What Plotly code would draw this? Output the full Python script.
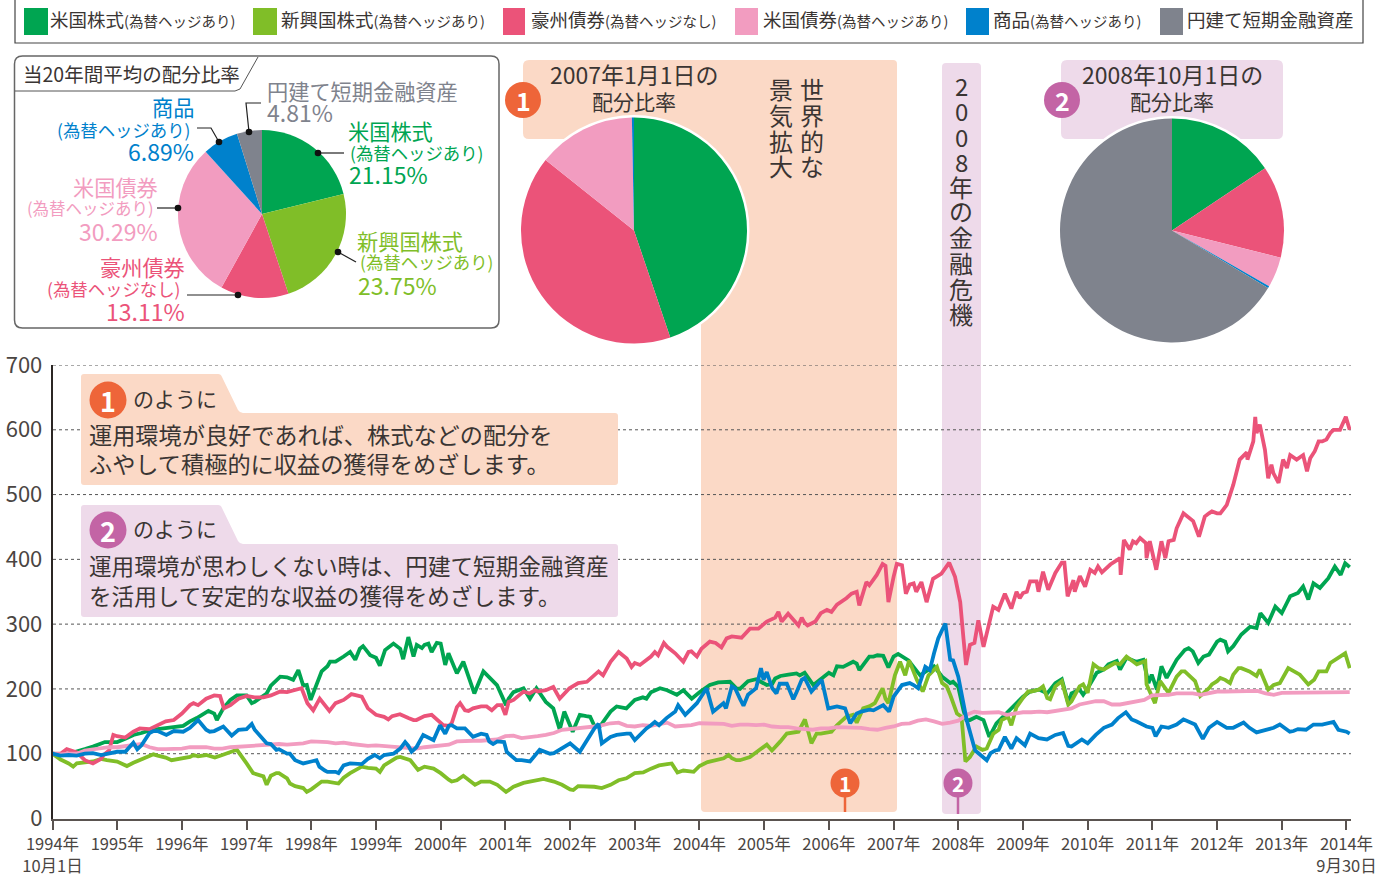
import plotly.graph_objects as go

# ---------- data ----------
year_labels = ["1994年<br>10月1日"] + [f"{y}年" for y in range(1995, 2014)] + ["2014年<br>9月30日"]
year_ticks = list(range(21))
y_ticks = [0, 100, 200, 300, 400, 500, 600, 700]
steps = [k / 8 for k in range(161)] + [20.05]

us_equity = [100,99,100,103,107,111,115,118,
 118,123,128,132,136,138,140,141,
 142,150,160,165,162,168,183,190,
 190,180,190,205,220,218,225,205,
 190,215,235,242,250,258,262,255,
 248,265,270,262,275,265,268,270,
 270,255,232,235,198,221,218,204,
 180,195,197,195,192,180,165,162,
 147,158,158,143,150,165,175,173,
 183,187,195,200,198,190,197,187,
 195,205,212,210,212,200,212,215,
 222,208,220,222,224,225,215,215,
 225,235,240,242,230,250,252,235,
 250,250,240,219,230,235,219,209,
 211,152,152,145,132,155,163,176,
 188,193,199,193,209,214,193,199,
 201,222,230,240,242,248,242,245,
 204,232,224,245,260,258,245,253,
 273,273,266,284,296,299,317,325,
 322,340,348,356,363,363,384,381,
 392,389]
us_equity_detail = [(.81,118),(1.25,129),(1.71,139),(2.02,143),(2.23,155),(2.41,166),(2.54,152),(2.64,170),(2.85,190),(3.08,178),
 (3.31,193),(3.52,219),(3.72,214),(3.8,229),(3.93,206),(3.99,183),(4.16,227),(4.29,242),(4.6,257),(4.68,245),(4.8,266),(4.91,252),
 (5.06,236),(5.14,260),(5.27,270),(5.42,246),(5.5,280),(5.58,250),(5.63,268),(5.71,263),(5.81,270),(5.86,257),(5.94,271),(6.07,237),
 (6.12,255),(6.25,224),(6.35,242),(6.52,193),(6.66,227),(6.87,206),(7.01,175),(7.05,185),(7.28,201),(7.38,185),(7.48,201),(7.74,170),
 (7.84,137),(7.91,165),(8.04,134),(8.15,160),(8.31,157),(8.46,142),(8.72,173),(8.87,170),(9.18,185),(9.39,201),(9.65,191),(9.75,198),
 (9.88,185),(10.16,206),(10.29,210),(10.47,211),(10.57,201),(10.83,214),(11.04,206),(11.17,216),(11.55,221),(11.76,206),(12.07,221),
 (12.22,234),(12.43,239),(12.47,229),(12.69,250),(12.84,251),(12.92,233),(13.07,254),(13.23,244),(13.41,221),(13.51,228),(13.92,211),
 (14.0,203),(14.08,167),(14.18,152),(14.28,157),(14.39,152),(14.48,126),(14.59,147),(14.72,160),(14.9,178),(15.11,196),(15.6,215),
 (15.7,178),(15.93,191),(16.14,225),(16.32,238),(16.45,243),(16.5,230),(16.6,248),(16.86,245),(16.94,209),(16.99,222),(17.07,199),
 (17.14,235),(17.22,217),(17.56,263),(17.71,240),(17.79,250),(18.05,276),(18.17,258),(18.51,296),(18.61,294),(18.67,317),(18.79,302),
 (18.9,327),(19.0,317),(19.08,333),(19.13,343),(19.33,358),(19.41,338),(19.49,363),(19.59,356),(19.72,371),(19.82,389),(19.91,376),
 (19.98,394),(20.05,388)]

em_equity = [100,91,85,85,87,88,92,90,
 88,81,86,91,96,97,94,91,
 92,95,96,98,96,98,103,105,
 85,67,62,66,70,62,50,47,
 45,56,57,55,63,70,80,78,
 77,82,90,95,92,80,80,76,
 70,60,59,64,52,57,54,52,
 42,49,56,57,60,62,57,52,
 45,50,50,49,46,52,59,63,
 70,71,77,82,84,72,74,73,
 81,87,89,93,93,90,95,101,
 111,108,119,134,134,152,119,131,
 134,144,157,160,162,173,180,185,
 214,245,222,204,199,230,209,191,
 158,88,111,106,106,137,152,170,
 186,196,199,186,204,209,181,204,
 194,235,230,237,235,250,240,240,
 194,209,194,219,227,214,194,201,
 212,214,222,232,227,222,204,206,
 227,232,224,209,214,227,240,248,
 253,235]
em_equity_detail = [(.32,80),(.84,90),(1.15,81),(1.56,99),(1.84,90),(2.18,98),(2.51,94),(2.85,106),(3.1,70),(3.26,65),(3.31,52),(3.46,70),
 (3.67,54),(3.93,41),(4.16,57),(4.42,54),(4.6,70),(4.78,80),(5.06,72),(5.32,94),(5.53,90),(5.65,75),(5.89,77),(6.17,57),(6.35,66),
 (6.53,52),(6.76,57),(7.01,41),(7.28,55),(7.59,61),(8.05,44),(8.49,47),(8.87,62),(9.13,71),(9.57,85),(9.66,71),(9.91,72),(10.27,90),
 (10.45,98),(10.57,90),(10.78,95),(10.93,106),(11.04,114),(11.12,105),(11.35,131),(11.53,134),(11.63,153),(11.73,116),(11.81,131),
 (12.04,134),(12.27,157),(12.43,148),(12.53,170),(12.71,178),(12.83,201),(12.92,178),(13.02,221),(13.1,242),(13.18,221),(13.24,244),
 (13.36,214),(13.45,196),(13.54,221),(13.67,234),(13.82,204),(13.98,162),(14.05,157),(14.11,88),(14.18,95),(14.28,111),(14.44,108),
 (14.54,131),(14.67,152),(14.77,157),(14.82,144),(14.9,172),(15.08,196),(15.31,204),(15.42,184),(15.6,212),(15.7,176),(15.93,207),
 (16.09,238),(16.17,232),(16.42,240),(16.5,238),(16.6,250),(16.76,238),(16.89,243),(16.91,207),(17.04,178),(17.12,212),(17.25,194),
 (17.45,227),(17.66,212),(17.74,189),(17.92,207),(18.05,217),(18.2,209),(18.33,232),(18.61,220),(18.66,230),(18.79,199),(18.97,209),
 (19.1,232),(19.28,222),(19.41,207),(19.57,227),(19.69,227),(19.98,255),(20.05,232)]

au_bond = [100,100,105,102,90,85,92,105,
 127,125,127,139,138,145,150,152,
 162,175,175,185,190,175,175,185,
 190,187,187,190,197,195,198,203,
 185,185,167,178,183,192,183,170,
 160,157,158,161,155,152,158,158,
 148,143,172,167,170,173,170,175,
 162,183,191,193,196,198,201,187,
 204,209,211,222,224,242,258,247,
 240,240,250,260,265,255,245,258,
 258,268,271,278,281,281,291,296,
 302,307,314,314,304,302,304,317,
 322,330,338,345,352,360,375,390,
 385,375,361,358,338,373,381,397,
 348,271,271,266,312,330,343,343,
 348,366,361,356,379,394,352,369,
 381,384,392,394,399,422,425,428,
 410,425,422,448,469,461,435,471,
 471,482,518,559,574,605,543,528,
 548,559,554,536,559,582,595,600,
 605,598]
au_bond_detail = [(.22,107),(.55,88),(.79,98),(.94,129),(1.25,134),(1.35,139),(1.66,146),(1.94,157),(2.18,178),(2.59,189),(2.65,170),(3.0,189),
 (3.26,187),(3.52,196),(3.85,201),(3.94,178),(4.03,167),(4.13,185),(4.28,166),(4.62,192),(4.78,188),(4.93,165),(5.19,153),(5.37,161),
 (5.58,152),(5.86,160),(6.04,144),(6.17,147),(6.3,178),(6.43,166),(6.71,173),(6.79,167),(6.94,175),(7.0,160),(7.05,180),(7.28,196),
 (7.46,198),(7.74,203),(7.84,185),(7.99,201),(8.26,211),(8.44,227),(8.51,221),(8.75,257),(8.95,234),(9.08,237),(9.31,257),(9.36,252),
 (9.45,271),(9.75,242),(9.83,257),(9.96,250),(10.03,262),(10.16,273),(10.34,264),(10.42,278),(10.65,279),(10.78,293),(10.91,293),(11.04,304),
 (11.17,310),(11.22,319),(11.27,304),(11.37,316),(11.53,298),(11.58,310),(11.67,298),(11.79,304),(11.97,322),(12.04,319),(12.27,340),
 (12.35,347),(12.43,350),(12.47,329),(12.58,365),(12.74,376),(12.83,393),(12.92,334),(13.0,373),(13.05,393),(13.13,391),(13.19,347),
 (13.31,363),(13.35,350),(13.43,365),(13.51,334),(13.61,370),(13.74,378),(13.86,395),(13.95,373),(14.03,334),(14.08,278),(14.12,237),
 (14.18,268),(14.31,306),(14.39,265),(14.54,327),(14.62,322),(14.72,347),(14.82,324),(14.9,350),(14.95,340),(15.06,350),(15.11,366),
 (15.21,366),(15.24,350),(15.31,381),(15.39,353),(15.5,379),(15.6,395),(15.64,395),(15.69,343),(15.78,368),(15.8,350),(15.88,374),
 (15.96,358),(16.04,384),(16.11,379),(16.16,389),(16.22,380),(16.35,392),(16.5,402),(16.51,376),(16.56,430),(16.65,415),(16.7,428),
 (16.81,433),(16.9,425),(16.91,402),(16.96,428),(17.06,384),(17.14,428),(17.2,402),(17.25,428),(17.33,430),(17.48,471),(17.63,459),
 (17.72,435),(17.81,466),(17.92,474),(18.05,471),(18.15,484),(18.25,515),(18.35,554),(18.46,565),(18.47,554),(18.56,582),(18.59,620),
 (18.61,595),(18.66,608),(18.74,569),(18.79,525),(18.84,546),(18.87,533),(18.95,518),(19.02,554),(19.08,541),(19.13,561),(19.23,554),
 (19.33,561),(19.39,536),(19.44,556),(19.51,567),(19.57,582),(19.69,585),(19.8,600),(19.9,600),(19.99,620),(20.05,600)]

us_bond = [100,99,100,100,105,107,108,110,
 110,112,113,115,110,107,107,107,
 108,110,110,110,108,108,110,111,
 112,113,113,114,115,114,115,116,
 119,119,118,116,117,115,113,112,
 113,112,111,109,108,108,110,111,
 112,114,119,120,120,120,121,122,
 127,128,124,125,127,129,132,137,
 138,139,141,142,144,147,148,143,
 142,144,143,146,148,142,143,144,
 147,147,146,146,143,145,145,144,
 145,142,141,141,139,138,137,139,
 139,141,141,141,140,138,137,140,
 142,146,147,151,153,150,146,148,
 151,160,165,163,163,164,160,162,
 164,164,165,164,166,167,170,176,
 179,181,181,176,176,178,181,183,
 190,190,191,193,193,193,191,194,
 196,196,196,196,196,197,193,191,
 194,194,194,194,195,195,195,195,
 195,195]
us_bond_detail = []

commodity = [100,97,98,97,100,101,98,100,
 103,103,115,113,132,135,130,135,
 137,140,155,137,135,142,130,137,
 138,137,122,115,107,100,90,85,
 88,80,72,72,82,85,85,92,
 97,98,100,108,112,110,125,122,
 140,143,139,139,129,131,119,119,
 121,93,90,89,100,103,101,108,
 116,106,119,139,119,126,127,131,
 124,134,144,144,157,165,160,170,
 167,201,162,175,204,185,191,201,
 215,201,201,206,195,217,201,211,
 170,173,170,155,165,168,170,178,
 188,204,209,204,240,255,291,245,
 219,147,109,96,101,106,124,122,
 116,129,127,124,129,132,111,122,
 116,129,140,145,158,163,150,145,
 140,142,140,145,152,147,124,140,
 148,140,140,145,140,133,136,140,
 142,134,138,137,145,145,147,137,
 134,129]
commodity_detail = [(1.25,117),(1.31,107),(1.56,135),(1.76,129),(2.02,134),(2.25,152),(2.43,134),(2.64,142),(2.77,128),(3.08,146),(3.31,116),
 (3.46,106),(3.67,100),(3.95,86),(4.08,90),(4.21,74),(4.42,70),(4.6,85),(4.78,84),(4.98,98),(5.06,93),(5.27,100),(5.45,118),(5.55,103),
 (5.73,129),(5.89,121),(5.99,144),(6.07,131),(6.17,144),(6.5,126),(6.71,129),(6.81,115),(6.98,118),(7.02,103),(7.17,90),(7.38,88),
 (7.53,106),(7.69,100),(8.0,116),(8.15,103),(8.44,146),(8.49,116),(8.72,129),(8.93,131),(9.0,121),(9.18,139),(9.31,149),(9.49,155),
 (9.67,175),(9.78,160),(9.96,178),(10.11,201),(10.21,165),(10.37,178),(10.41,170),(10.55,201),(10.68,174),(10.83,198),(10.95,232),
 (10.99,214),(11.04,226),(11.19,193),(11.24,208),(11.35,208),(11.45,184),(11.58,214),(11.73,196),(11.89,214),(11.99,170),(12.2,172),
 (12.33,147),(12.43,162),(12.69,167),(12.84,175),(12.93,165),(13.13,206),(13.31,206),(13.38,201),(13.49,234),(13.56,229),(13.69,278),
 (13.8,301),(13.92,244),(14.0,219),(14.13,152),(14.26,105),(14.44,90),(14.57,105),(14.72,126),(14.82,108),(14.9,124),(15.03,113),
 (15.11,131),(15.24,124),(15.37,122),(15.62,132),(15.7,112),(15.91,122),(16.19,135),(16.47,155),(16.59,164),(16.68,153),(16.91,142),
 (17.05,127),(17.14,142),(17.48,153),(17.66,145),(17.78,123),(18.0,149),(18.15,140),(18.41,148),(18.61,133),(18.97,145),(19.18,135),
 (19.49,145),(19.8,149),(20.05,131)]

asset_names = ["米国株式", "新興国株式", "豪州債券", "米国債券", "商品", "円建て短期金融資産"]
asset_notes = ["(為替ヘッジあり)", "(為替ヘッジあり)", "(為替ヘッジなし)", "(為替ヘッジあり)", "(為替ヘッジあり)", ""]
avg_share = [21.15, 23.75, 13.11, 30.29, 6.89, 4.81]
share_2007 = [44.8, 0, 40.9, 14.0, 0.3, 0]
share_2008 = [15.6, 0, 13.3, 4.4, 0.3, 66.4]

# ---------- style ----------
GREEN, LIME, RED, PINK, BLUE, GRAY = "#00A551", "#80BE28", "#EB5379", "#F29CC0", "#0081CC", "#7F838D"
COLORS = [GREEN, LIME, RED, PINK, BLUE, GRAY]
ORANGE_BG, PURPLE_BG = "#FBD9C6", "#EEDAEA"
ORANGE, PURPLE = "#EE6539", "#C364A5"
INK = "#3A3533"
FONT = "Noto Sans CJK JP"
W, H = 1379, 881

def px(x): return x / W
def py(y): return 1 - y / H

shapes, notes = [], []

def path(d, fill, line=None, lw=0, layer="below"):
    parts, out, is_x = d.split(), [], True
    for p in parts:
        if p.isalpha():
            out.append(p)
        else:
            out.append(str(px(float(p))) if is_x else str(py(float(p))))
            is_x = not is_x
    shapes.append(dict(type="path", path=" ".join(out), xref="paper", yref="paper", fillcolor=fill,
                       line=dict(color=line or fill, width=lw), layer=layer))

def rect(x0, y0, x1, y1, fill, line=None, lw=0, layer="below"):
    shapes.append(dict(type="rect", x0=px(x0), x1=px(x1), y0=py(y0), y1=py(y1), xref="paper", yref="paper",
                       fillcolor=fill, line=dict(color=line or fill, width=lw), layer=layer))

def circle(cx, cy, r, fill, layer="above"):
    shapes.append(dict(type="circle", x0=px(cx - r), x1=px(cx + r), y0=py(cy + r), y1=py(cy - r), xref="paper",
                       yref="paper", fillcolor=fill, line=dict(width=0), layer=layer))

def seg(pts, color="#222222", lw=1.2, layer="above"):
    d = "M " + " L ".join(f"{px(a)} {py(b)}" for a, b in pts)
    shapes.append(dict(type="path", path=d, xref="paper", yref="paper", line=dict(color=color, width=lw), layer=layer))

def text(x, y, s, size, color=INK, anchor="left"):
    notes.append(dict(x=px(x), y=py(y - 2), xref="paper", yref="paper", text=s, showarrow=False, xanchor=anchor,
                      yanchor="middle", font=dict(family=FONT, size=size, color=color), borderpad=0, borderwidth=0))

def rrect_d(x0, y0, x1, y1, r):
    return (f"M {x0+r} {y0} L {x1-r} {y0} Q {x1} {y0} {x1} {y0+r} L {x1} {y1-r} Q {x1} {y1} {x1-r} {y1} "
            f"L {x0+r} {y1} Q {x0} {y1} {x0} {y1-r} L {x0} {y0+r} Q {x0} {y0} {x0+r} {y0} Z")

# bands (below the grid)
path(rrect_d(701, 60, 897, 812, 4), ORANGE_BG)
path(rrect_d(523, 60, 720, 139, 6), ORANGE_BG)
path(rrect_d(942, 63, 981, 814, 4), PURPLE_BG)
path(rrect_d(1061, 60, 1283, 139, 6), PURPLE_BG)

# grid lines
for v in y_ticks[1:]:
    shapes.append(dict(type="line", xref="paper", yref="y", x0=px(53), x1=px(1351), y0=v, y1=v,
                       line=dict(color="#555555", width=1, dash="dot"), layer="below"))

# callouts
path("M 83 374 L 218 374 Q 221 374 222 377 L 238 410 Q 240 413 243 413 L 615 413 Q 618 413 618 416 "
     "L 618 482 Q 618 485 615 485 L 84 485 Q 81 485 81 482 L 81 377 Q 81 374 84 374 Z", ORANGE_BG)
path("M 83 505 L 218 505 Q 221 505 222 508 L 238 541 Q 240 544 243 544 L 615 544 Q 618 544 618 547 "
     "L 618 614 Q 618 617 615 617 L 84 617 Q 81 617 81 614 L 81 508 Q 81 505 84 505 Z", PURPLE_BG)

# white halo round the two big pies
circle(634, 230.5, 115.5, "white", layer="below")
circle(1172, 230.5, 114.5, "white", layer="below")

# average panel + tab
path(rrect_d(14.5, 56, 499, 328, 8), "rgba(255,255,255,0)", "#666666", 1.5, layer="above")
seg([(15, 91), (235, 91), (240, 89), (258, 57)], "#555555", 1)
text(23, 75, "当20年間平均の配分比率", 19.5)

# legend
rect(15, -3, 1363, 43, "rgba(255,255,255,0)", "#444444", 1.2, layer="above")
sw = [(24, 48, 50), (253, 277, 281), (503, 525, 531), (735, 758, 763), (966, 989, 993), (1160, 1183, 1187)]
for (a, b, tx), col, name, nt in zip(sw, COLORS, asset_names, asset_notes):
    rect(a, 8, b, 35, col)
    small = f'<span style="font-size:14.5px">{nt}</span>' if nt else ""
    text(tx, 21, name + small, 18.5)

# average pie labels
LBL, NOTE, PCT = 21.2, 17.4, 23
def label(x1, x2, x3, y1, y2, y3, i, anchor, note=NOTE):
    text(x1, y1, asset_names[i], LBL, COLORS[i], anchor)
    text(x2, y2, asset_notes[i], note, COLORS[i], anchor)
    text(x3, y3, f"{avg_share[i]:.2f}%", PCT, COLORS[i], anchor)
label(348, 350, 349, 132, 154, 176, 0, "left")
label(357, 360, 358, 242, 264, 287, 1, "left")
label(185, 181, 185, 268, 290, 313, 2, "right")
label(158, 154, 158, 188, 210, 233, 3, "right", 16.5)
label(194, 191, 194, 109, 131, 153, 4, "right")
text(267, 92, asset_names[5], LBL, GRAY)
text(267, 114, f"{avg_share[5]:.2f}%", PCT, GRAY)

# leaders
for pts, dot in [([(318, 153), (344, 153)], (318, 153)), ([(338, 252), (356, 262)], (338, 252)),
                 ([(238, 295), (187, 295)], (238, 295)), ([(178, 208), (157, 208)], (178, 208)),
                 ([(219, 142), (211, 128), (197, 128)], (219, 142)), ([(249, 132), (246, 103), (261, 103)], (249, 132))]:
    seg(pts)
    circle(dot[0], dot[1], 3.3, "#111111")

# pie headers
text(634, 76, "2007年1月1日の", 23, anchor="center")
text(634, 103, "配分比率", 21, anchor="center")
text(1172, 76, "2008年10月1日の", 23, anchor="center")
text(1172, 103, "配分比率", 21, anchor="center")

# numbered badges
def badge(cx, cy, r, col, s, size):
    circle(cx, cy, r, col)
    text(cx, cy + 2, f"<b>{s}</b>", size, "white", "center")
badge(523, 100, 18, ORANGE, "1", 25)
badge(1062, 100, 18, PURPLE, "2", 25)
badge(108, 400, 18.5, ORANGE, "1", 27)
badge(108, 530, 18.5, PURPLE, "2", 27)
seg([(845, 797), (845, 812)], ORANGE, 2.5)
seg([(958, 797), (958, 814)], PURPLE, 2.5)
badge(845, 783, 14.5, ORANGE, "1", 21)
badge(958, 783, 14.5, PURPLE, "2", 21)

# vertical captions
for ch, yy in zip("世界的な", [90, 116, 142, 168]):
    text(812, yy, ch, 24, anchor="center")
for ch, yy in zip("景気拡大", [90, 116, 142, 168]):
    text(781, yy, ch, 24, anchor="center")
for ch, yy in zip("2008年の金融危機", [88, 113, 138, 163, 188, 213, 238, 265, 290, 315]):
    text(961, yy, ch, 24, anchor="center")

# callout text
text(133, 400, "のように", 21)
text(89, 436, "運用環境が良好であれば、株式などの配分を", 23.2)
text(89, 465, "ふやして積極的に収益の獲得をめざします。", 23.2)
text(133, 530, "のように", 21)
text(89, 567, "運用環境が思わしくない時は、円建て短期金融資産", 22.6)
text(89, 597, "を活用して安定的な収益の獲得をめざします。", 22.6)

# ---------- figure ----------
fig = go.Figure()

def merged(vals, detail):
    coarse = [(t, v) for t, v in zip(steps, vals) if all(abs(t - d[0]) > 0.04 for d in detail)]
    pts = sorted(coarse + detail)
    return [p[0] for p in pts], [p[1] for p in pts]

series = [("米国株式", us_equity, us_equity_detail, GREEN), ("新興国株式", em_equity, em_equity_detail, LIME),
          ("豪州債券", au_bond, au_bond_detail, RED), ("米国債券", us_bond, us_bond_detail, PINK),
          ("商品", commodity, commodity_detail, BLUE)]
for name, vals, detail, col in series:
    xs, ys = merged(vals, detail)
    fig.add_trace(go.Scatter(x=xs, y=ys, name=name, mode="lines", cliponaxis=False,
                             line=dict(color=col, width=3.8, shape="linear"), showlegend=False, hoverinfo="skip"))

def pie(vals, cx, cy, r):
    fig.add_trace(go.Pie(values=vals, labels=asset_names, sort=False, direction="clockwise", rotation=0,
                         marker=dict(colors=COLORS, line=dict(width=0)), textinfo="none", hoverinfo="skip",
                         showlegend=False, domain=dict(x=[px(cx - r), px(cx + r)], y=[py(cy + r), py(cy - r)])))
pie(avg_share, 262, 214, 84)
pie(share_2007, 634, 230.5, 113)
pie(share_2008, 1172, 230.5, 112)

fig.update_layout(
    width=W, height=H, margin=dict(l=0, r=0, t=0, b=0, pad=0, autoexpand=False), paper_bgcolor="white", plot_bgcolor="rgba(0,0,0,0)",
    showlegend=False, shapes=shapes, annotations=notes, font=dict(family=FONT, color=INK),
    xaxis=dict(domain=[px(52.5), px(1351)], range=[0, 20.07], tickmode="array", tickvals=year_ticks, ticktext=year_labels,
               showgrid=False, zeroline=False, showline=True, linecolor="#5A5350", linewidth=1.5,
               ticks="outside", ticklen=10, tickcolor="#5A5350", tickwidth=1.5,
               tickfont=dict(family=FONT, size=16.5, color="#4A4542")),
    yaxis=dict(domain=[py(818.5), py(365)], range=[0, 700], tickmode="array", tickvals=y_ticks, ticktext=[str(v) for v in y_ticks],
               showgrid=False, zeroline=False, showline=True, linecolor="#2B2624", linewidth=1.5, ticks="",
               ticklabelstandoff=4, tickfont=dict(family=FONT, size=22, color="#4A4542")),
)
fig.write_html("out.html", config=dict(displayModeBar=False), post_script="document.body.style.margin='0';")
